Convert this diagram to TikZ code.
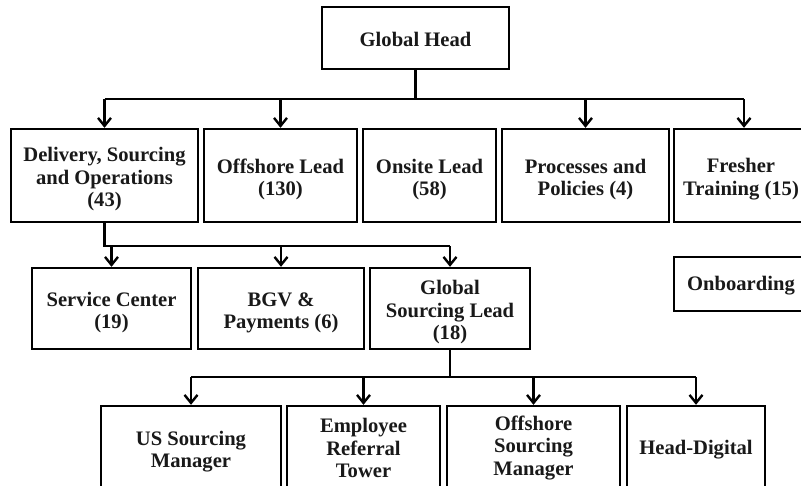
\documentclass[tikz,border=0pt]{standalone}
\usepackage{fontspec}
\setmainfont{Liberation Serif}
\usetikzlibrary{arrows.meta}

% strut that lowers the first line of a stacked label a little
\newcommand\firstline{\rule{0pt}{22pt}}

\tikzset{
  box/.style={draw, line width=2.4pt, inner sep=0pt, align=center,
    font=\bfseries\fontsize{20.6}{22.5}\selectfont, text=black!90,
    execute at begin node={\rule{0pt}{18pt}}},
  conn/.style={line width=2.4pt},
  arr/.style={conn, -{Straight Barb[length=8pt,width=13pt]}},
}

\begin{document}
\begin{tikzpicture}[x=1pt, y=-1pt]
  \useasboundingbox (0,0) rectangle (801,485);
  \fill[white] (0,0) rectangle (801,485);
  \clip (0,0) rectangle (801,485);

  % top level
  \node[box, minimum width=187pt, minimum height=62pt] (gh) at (415.5,38) {Global Head};

  % first row
  \node[box, minimum width=187pt, minimum height=93pt] (d1) at (104.5,175.5) {\firstline Delivery, Sourcing\\and Operations\\(43)};
  \node[box, minimum width=153pt, minimum height=93pt] (d2) at (280.5,175.5) {\firstline Offshore Lead\\(130)};
  \node[box, minimum width=133pt, minimum height=93pt] (d3) at (429.5,175.5) {\firstline Onsite Lead\\(58)};
  \node[box, minimum width=167pt, minimum height=93pt] (d4) at (585.5,175.5) {\firstline Processes and\\Policies (4)};
  \node[box, minimum width=134pt, minimum height=93pt] (d5) at (741,175.5) {\firstline Fresher\\Training (15)};

  % second row
  \node[box, minimum width=159pt, minimum height=81pt] (s1) at (111.5,308.5) {\firstline Service Center\\(19)};
  \node[box, minimum width=166pt, minimum height=81pt] (s2) at (281,308.5) {\firstline BGV \&\\Payments (6)};
  \node[box, minimum width=160pt, minimum height=81pt] (s3) at (450,308.5) {\firstline Global\\Sourcing Lead\\(18)};
  \node[box, minimum width=134pt, minimum height=54pt] (ob) at (741,284) {Onboarding};

  % third row
  \node[box, minimum width=180pt, minimum height=84pt] (m1) at (191,448) {\firstline US Sourcing\\Manager};
  \node[box, minimum width=153pt, minimum height=84pt] (m2) at (363.5,448) {Employee\\Referral\\Tower};
  \node[box, minimum width=173pt, minimum height=84pt] (m3) at (533.5,448) {Offshore\\Sourcing\\Manager};
  \node[box, minimum width=138pt, minimum height=84pt] (m4) at (696,448) {Head-Digital};

  % bus levels
  \coordinate (b1) at (415.5,99);
  \coordinate (b2) at (104.5,246);
  \coordinate (b3) at (450,377);
  \coordinate (fr) at (744,99);

  % global head to first row
  \draw[conn] (gh.south) -- (gh.south |- b1);
  \draw[conn] (b1 -| d1) -- (fr);
  \foreach \n in {d1,d2,d4} \draw[arr] (b1 -| \n) -- (\n.north);
  \draw[arr] (fr) -- (fr |- d5.north);

  % delivery to second row
  \draw[conn] (d1.south) -- (d1.south |- b2) -- (b2 -| s3);
  \foreach \n in {s1,s2,s3} \draw[arr] (b2 -| \n) -- (\n.north);

  % global sourcing lead to third row
  \draw[conn] (s3.south) -- (s3.south |- b3);
  \draw[conn] (b3 -| m1) -- (b3 -| m4);
  \foreach \n in {m1,m2,m3,m4} \draw[arr] (b3 -| \n) -- (\n.north);
\end{tikzpicture}
\end{document}
